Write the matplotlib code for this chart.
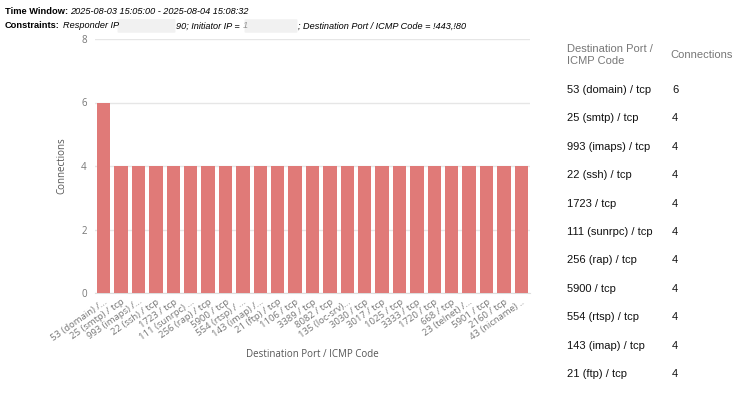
import matplotlib.pyplot as plt
import numpy as np
from matplotlib.patches import FancyBboxPatch

# datos del grafico
ports = ['53 (domain) /...', '25 (smtp) / tcp', '993 (imaps) /...', '22 (ssh) / tcp',
         '1723 / tcp', '111 (sunrpc) ...', '256 (rap) / tcp', '5900 / tcp',
         '554 (rtsp) / ...', '143 (imap) /...', '21 (ftp) / tcp', '1106 / tcp',
         '3389 / tcp', '8082 / tcp', '135 (loc-srv)...', '3030 / tcp', '3017 / tcp',
         '1025 / tcp', '3333 / tcp', '1720 / tcp', '668 / tcp', '23 (telnet) /...',
         '5901 / tcp', '2160 / tcp', '43 (nicname) ..']
connections = [6, 4, 4, 4, 4, 4, 4, 4, 4, 4, 4, 4, 4, 4, 4, 4, 4, 4, 4, 4, 4, 4, 4, 4, 4]

# tabla de la derecha
table_ports = ['53 (domain) / tcp', '25 (smtp) / tcp', '993 (imaps) / tcp', '22 (ssh) / tcp',
               '1723 / tcp', '111 (sunrpc) / tcp', '256 (rap) / tcp', '5900 / tcp',
               '554 (rtsp) / tcp', '143 (imap) / tcp', '21 (ftp) / tcp']
table_conn = [6, 4, 4, 4, 4, 4, 4, 4, 4, 4, 4]

W, H = 752, 399
fig = plt.figure(figsize=(W / 100, H / 100), dpi=100)


def px(x, y):
    return x / W, 1 - y / H


hf = 'Liberation Sans'


def put(x, y, s, **kw):
    fig.text(*px(x, y), s, family=hf, va='center', **kw)


def blur(x0, x1, y):
    fig.patches.append(FancyBboxPatch(px(x0, y + 6), (x1 - x0) / W, 12 / H,
                                      boxstyle='round,pad=0.002', transform=fig.transFigure,
                                      facecolor='#efefef', edgecolor='none', alpha=0.85))


# encabezado
put(5, 12, 'Time Window:', fontsize=6.7, fontweight='bold')
put(70, 12, '2025-08-03 15:05:00 - 2025-08-04 15:08:32', fontsize=6.6, style='italic')
put(5, 26, 'Constraints:', fontsize=6.7, fontweight='bold')
put(63, 26, 'Responder IP', fontsize=6.6, style='italic')
blur(119, 174, 26)
put(176, 26, '90; Initiator IP = ', fontsize=6.6, style='italic')
put(243, 26, '1', fontsize=6.6, style='italic', alpha=0.4)
blur(246, 296, 26)
put(298, 26, '; Destination Port / ICMP Code = !443,!80', fontsize=6.6, style='italic')

ax = fig.add_axes([95 / W, 1 - 293 / H, (530 - 95) / W, (293 - 39) / H])
x = np.arange(len(ports))
ax.bar(x, connections, width=0.78, color='#e07a78', zorder=3)
ax.set_xlim(-0.5, len(ports) - 0.5)
ax.set_ylim(0, 8)
ax.set_yticks([0, 2, 4, 6, 8])
ax.grid(axis='y', color='#e6e6e6', linewidth=1, zorder=0)
for s in ['top', 'right', 'left']:
    ax.spines[s].set_visible(False)
ax.spines['bottom'].set_color('#dddddd')
ax.tick_params(axis='both', length=0, colors='#777777', labelsize=7)
ax.tick_params(axis='y', pad=6)
ax.tick_params(axis='x', pad=3)
ax.set_xticks(x)
ax.set_xticklabels(ports, rotation=35, ha='right', rotation_mode='anchor',
                   family='Open Sans', fontsize=6.8, color='#777777')
for lab in ax.get_yticklabels():
    lab.set_family('Open Sans')
ax.set_ylabel('Connections', family='Open Sans', fontsize=7, color='#555555', labelpad=10)
ax.set_xlabel('Destination Port / ICMP Code', family='Open Sans', fontsize=7,
              color='#555555', labelpad=5)

# tabla
fig.text(*px(567, 55), 'Destination Port /\nICMP Code', fontsize=8, color='#777777',
         family=hf, va='center', linespacing=1.35)
fig.text(*px(670, 55), 'Connections', fontsize=8, color='#777777', family=hf, va='center')
for i, (p, c) in enumerate(zip(table_ports, table_conn)):
    y = 90 + i * 28.4
    fig.text(*px(567, y), p, fontsize=8, color='#111111', family=hf, va='center')
    fig.text(*px(672, y), str(c), fontsize=8, color='#111111', family=hf, va='center')

fig.savefig('out.png', dpi=100)
